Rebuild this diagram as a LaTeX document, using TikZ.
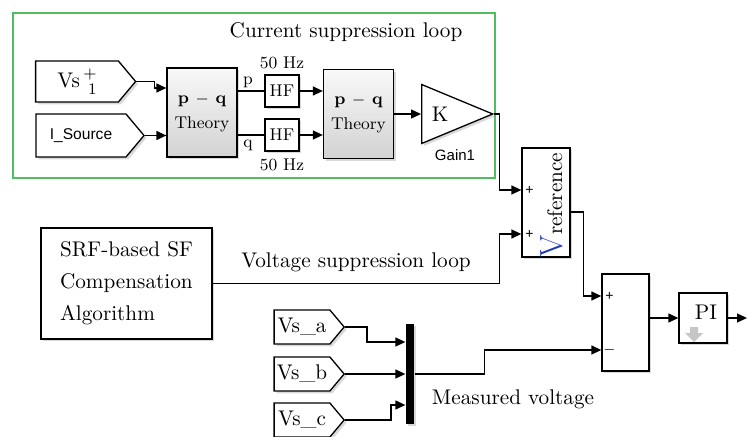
\documentclass[tikz,border=0pt]{standalone}
\usepackage{fontspec}
\newfontfamily\simsans{Liberation Sans}
\usetikzlibrary{arrows.meta,shapes.symbols,shapes.geometric,shadows}
\definecolor{loopgreen}{RGB}{80,190,95}
\definecolor{vblue}{RGB}{30,60,180}
\begin{document}
\begin{tikzpicture}[x=0.5pt, y=-0.5pt, line width=0.65pt,
    >={Triangle[length=5pt,width=4.5pt]},
    every node/.style={font=\fontsize{10.6}{16}\selectfont},
    block/.style={draw, fill=white, drop shadow={shadow xshift=1.2pt,shadow yshift=-1.2pt,opacity=0.3}},
    theory/.style={block, top color=gray!5, bottom color=gray!35, minimum width=35pt, minimum height=44.5pt, align=center, font=\fontsize{8.5}{12.5}\selectfont},
    hfbox/.style={block, minimum width=17pt, minimum height=16pt, inner sep=0pt, font=\fontsize{8.5}{10}\selectfont},
    fromtag/.style={block, signal, signal to=east, signal pointer angle=100, inner sep=0pt},
    small/.style={font=\fontsize{8.5}{10}\selectfont},
    sign/.style={font=\simsans\fontsize{7}{8}\selectfont, inner sep=1pt}]
    \useasboundingbox (0,0) rectangle (747,437);
    \draw[loopgreen, line width=0.8pt] (13,13) rectangle (495,178);
    \node (cstitle) at (346,32) {Current suppression loop};

    \node[fromtag, minimum width=50pt, minimum height=20.5pt] (vsone) at (77,81.5) {Vs\,\raisebox{4.5pt}{\fontsize{8}{8}\selectfont+}\llap{\raisebox{-3.5pt}{\fontsize{8}{8}\selectfont 1}}};
    \node[fromtag, minimum width=54pt, minimum height=21.5pt, font=\simsans\fontsize{7.8}{9}\selectfont] (isrc) at (81,135.5) {I\_Source};
    \node[theory] (pqa) at (202,112.5) {{\bfseries p $-$ q}\\Theory};
    \node[hfbox] (hfp) at (282,91) {HF};
    \node[hfbox] (hfq) at (282,135) {HF};
    \node[theory] (pqb) at (358.5,114) {{\bfseries p $-$ q}\\Theory};
    \node[block, isosceles triangle, isosceles triangle stretches, shape border rotate=0, minimum width=29.5pt, minimum height=35.5pt, inner sep=0pt, anchor=lower side] (gain) at (421,114) {K\hspace{16pt}};
    \node[font=\simsans\fontsize{7.5}{9}\selectfont] (gainlbl) at (455,155) {Gain1};
    \node[small] (plbl) at (248,82) {p};
    \node[small] (qlbl) at (248,145) {q};
    \node[small] (hzp) at (282,63) {50 Hz};
    \node[small] (hzq) at (282,165) {50 Hz};

    \node[block, minimum width=24pt, minimum height=54.5pt] (vref) at (546,202.5) {};
    \node[rotate=90, anchor=base, inner sep=0pt] (vreflbl) at (562,205) {{\fontsize{16}{16}\selectfont\color{vblue}V}reference};
    \node[sign] at ([xshift=4pt,yshift=6.25pt]vref.west) {+};
    \node[sign] at ([xshift=4pt,yshift=-15.75pt]vref.west) {+};

    \node[block, minimum width=85.5pt, minimum height=55.5pt, align=left] (srf) at (126.5,283.5) {SRF-based SF\\Compensation\\Algorithm};
    \node (vslbl) at (356,262) {Voltage suppression loop};

    \node[block, minimum width=23.5pt, minimum height=48.5pt] (sum) at (625.5,322.5) {};
    \node[sign] at ([xshift=4pt,yshift=13.25pt]sum.west) {+};
    \node[sign] at ([xshift=4pt,yshift=-13.75pt]sum.west) {$-$};
    \node[block, minimum width=24pt, minimum height=25pt] (pi) at (703,318) {};
    \node (pitxt) at (706,312) {PI};
    \fill[gray!45] (690,327) -- (698,327) -- (698,333) -- (703,333) -- (694,342) -- (685,333) -- (690,333) -- cycle;
    \coordinate (piout) at (747,318);

    \node[fromtag, minimum width=35pt, minimum height=17pt] (vsa) at (302,327) {Vs\_a};
    \node[fromtag, minimum width=35pt, minimum height=17pt] (vsb) at (302,374) {Vs\_b};
    \node[fromtag, minimum width=35pt, minimum height=17pt] (vsc) at (302,420) {Vs\_c};
    \node[fill=black, minimum width=4pt, minimum height=50pt, inner sep=0pt, drop shadow={shadow xshift=1.2pt,shadow yshift=-1.2pt,opacity=0.3}] (mux) at (410,374) {};
    \node (mvlbl) at (513,399) {Measured voltage};

    \draw[->] (vsone.east) -- ++(18,0) |- ([yshift=12.25pt]pqa.west);
    \draw[->] (isrc.east) -- (pqa.west |- isrc.east);
    \draw (pqa.east |- hfp.west) -- (hfp.west);
    \draw (pqa.east |- hfq.west) -- (hfq.west);
    \draw[->] (hfp.east) -- (pqb.west |- hfp.east);
    \draw[->] (hfq.east) -- (pqb.west |- hfq.east);
    \draw[->] (pqb.east) -- (gain.lower side);
    \draw[->] (gain.apex) -- ++(5,0) |- ([yshift=6.25pt]vref.west);
    \draw[->] (srf.east) -- ++(287,0) |- ([yshift=-15.75pt]vref.west);
    \draw[->] ([yshift=-4.75pt]vref.east) -- ++(13,0) |- ([yshift=13.25pt]sum.west);
    \draw[->] (vsa.east) -- ++(22,0) |- ([yshift=16pt]mux.west);
    \draw[->] (vsb.east) -- (mux.west |- vsb.east);
    \draw[->] (vsc.east) -- ++(46,0) |- ([yshift=-15.5pt]mux.west);
    \draw[->] (mux.east) -- ++(70,0) |- ([yshift=-13.75pt]sum.west);
    \draw[->] (sum.east |- pi.west) -- (pi.west);
    \draw[->] (pi.east) -- (piout);
\end{tikzpicture}
\end{document}
